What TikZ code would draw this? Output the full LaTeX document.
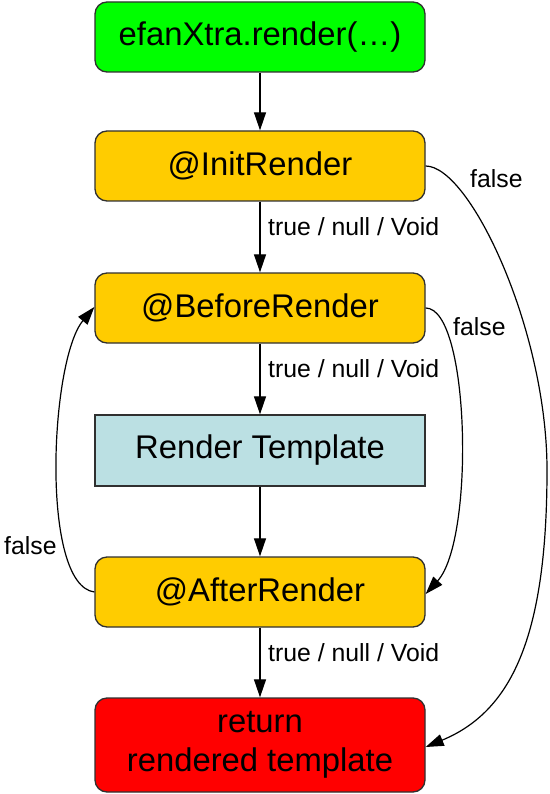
\documentclass[tikz,border=0pt]{standalone}
\usepackage{fontspec}
\setmainfont{Liberation Sans}
\usetikzlibrary{arrows.meta}
\definecolor{cgreen}{HTML}{00FF00}
\definecolor{corange}{HTML}{FFCC00}
\definecolor{cblue}{HTML}{BBE0E3}
\definecolor{cred}{HTML}{FF0000}
\definecolor{cborder}{HTML}{303030}
\begin{document}
\begin{tikzpicture}[x=1pt,y=-1pt,
  box/.style={draw=cborder,line width=1.3pt,minimum width=330pt,minimum height=70pt,
    inner sep=0pt,align=center,font=\fontsize{32.8}{39}\selectfont},
  rbox/.style={box,rounded corners=12pt},
  edge/.style={line width=1.2pt,-{Triangle[length=18pt,width=12pt]}},
  lbl/.style={font=\fontsize{24.8}{30}\selectfont,inner sep=0pt}]
\useasboundingbox (0,0) rectangle (549,794);
\node[rbox,fill=cgreen] (ef) at (260,37) {efanXtra.render(…)};
\node[rbox,fill=corange] (init) at (260,166) {@InitRender};
\node[rbox,fill=corange] (before) at (260,308) {@BeforeRender};
\node[box,fill=cblue,minimum height=71pt] (tmpl) at (260,450.5) {Render Template};
\node[rbox,fill=corange] (after) at (260,592) {@AfterRender};
\node[rbox,fill=cred,minimum height=94pt] (ret) at (260,745) {return\\rendered template};
\coordinate (outer) at (547,470);

\draw[edge] (ef) -- (init);
\draw[edge] (init) -- (before);
\draw[edge] (before) -- (tmpl);
\draw[edge] (tmpl) -- (after);
\draw[edge] (after) -- (ret);

\draw[edge] (init.east) .. controls (470,166) and (547,330) .. (outer)
  .. controls (547,640) and (510,712) .. ([yshift=-2pt]ret.east);
\draw[edge] (before.east) .. controls (470,308) and (475,540) .. ([yshift=-2pt]after.east);
\draw[edge] (after.west) .. controls (40,585) and (50,360) .. ([yshift=1pt]before.west);

\node[lbl,anchor=base west] (l1) at (268,235) {true / null / Void};
\node[lbl,anchor=base west] (l2) at (268,377) {true / null / Void};
\node[lbl,anchor=base west] (l3) at (268,661) {true / null / Void};
\node[lbl,anchor=base west] (f1) at (470,188) {false};
\node[lbl,anchor=base west] (f2) at (453,335) {false};
\node[lbl,anchor=base west] (f3) at (4,554) {false};
\end{tikzpicture}
\end{document}
